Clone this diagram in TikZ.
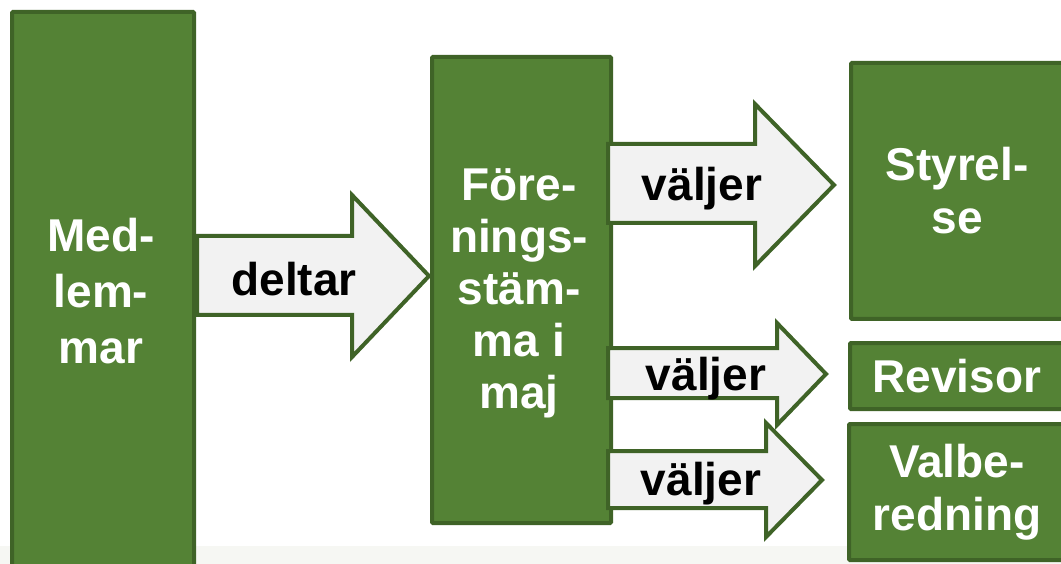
\documentclass[tikz,border=0pt]{standalone}
\usepackage{fontspec}
\setmainfont{Liberation Sans}
\begin{document}
\begin{tikzpicture}[x=1pt,y=-1pt,
  gbox/.style={draw=gborder,fill=gfill,line width=4pt,rounded corners=1pt,inner sep=0pt,
    text=white,font=\fontsize{46}{53}\selectfont\bfseries,align=center,anchor=north west},
  barrow/.style={draw=gborder,fill=afill,line width=4pt,line join=miter},
  alabel/.style={font=\fontsize{46}{53}\selectfont\bfseries,text=black,inner sep=0pt}]
\definecolor{gfill}{HTML}{548235}
\definecolor{gborder}{HTML}{3F6327}
\definecolor{afill}{HTML}{F2F2F2}
\definecolor{strip}{HTML}{F6F7F3}
\useasboundingbox (0,0) rectangle (1061,564);
\clip (0,0) rectangle (1061,564);
\fill[strip] (0,546) rectangle (1061,564);
% boxes
\node[gbox,minimum width=182pt,minimum height=570pt] (med) at (10,10) {};
\node[font=\fontsize{46}{56}\selectfont\bfseries,text=white,align=center] at (101,291) {Med-\\lem-\\mar};
\node[gbox,minimum width=179pt,minimum height=466pt] (for) at (430,55) {};
\node[font=\fontsize{46}{52}\selectfont\bfseries,text=white,align=center] at (519,293) {Före-\\nings-\\stäm-\\ma i\\maj};
\node[gbox,minimum width=220pt,minimum height=256pt] (sty) at (849,61) {};
\node[font=\fontsize{46}{53}\selectfont\bfseries,text=white,align=center] at (957,191) {Styrel-\\se};
\node[gbox,minimum width=220pt,minimum height=66pt] (rev) at (848,341) {};
\node[font=\fontsize{46}{53}\selectfont\bfseries,text=white] at (957,376) {Revisor};
\node[gbox,minimum width=222pt,minimum height=136pt] (val) at (847,422) {};
\node[font=\fontsize{46}{53}\selectfont\bfseries,text=white,align=center] at (957,492) {Valbe-\\redning};
% block arrows
\draw[barrow] (197,236) -- (352,236) -- (352,195) -- (429,276) -- (352,357) -- (352,315) -- (197,315) -- cycle;
\node[alabel] (l1) at (294,279) {deltar};
\draw[barrow] (608,144) -- (755,144) -- (755,104) -- (834,185) -- (755,266) -- (755,223) -- (608,223) -- cycle;
\node[alabel] (l2) at (702,189) {väljer};
\draw[barrow] (608,348) -- (777,348) -- (777,323) -- (826,374) -- (777,425) -- (777,398) -- (608,398) -- cycle;
\node[alabel] (l3) at (706,379) {väljer};
\draw[barrow] (608,451) -- (766,451) -- (766,423) -- (822,480) -- (766,537) -- (766,508) -- (608,508) -- cycle;
\node[alabel] (l4) at (701,484) {väljer};
\end{tikzpicture}
\end{document}
